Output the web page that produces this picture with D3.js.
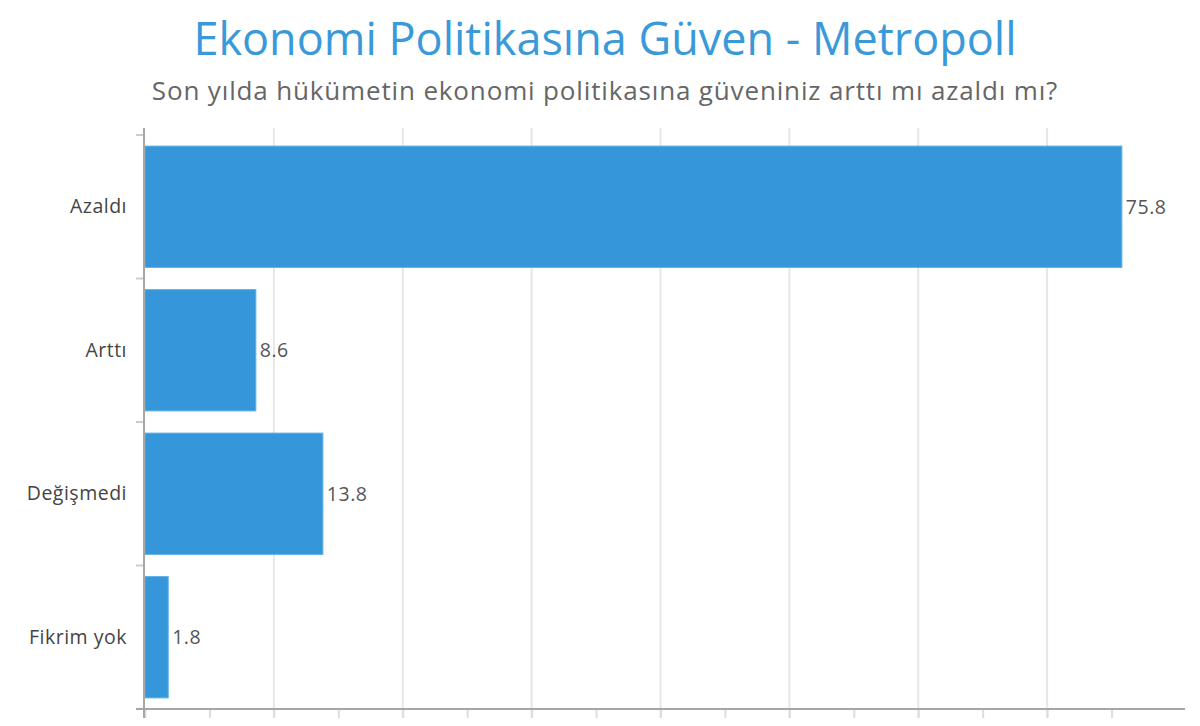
<!DOCTYPE html>
<html>
<head>
<meta charset="utf-8">
<script src="https://cdn.jsdelivr.net/npm/d3@7"></script>
<style>
  body { margin: 0; background: #fff; }
  svg { font-family: "Open Sans", sans-serif; }
</style>
</head>
<body>
<svg width="1200" height="726"></svg>
<script>
var categories = ["Azaldı", "Arttı", "Değişmedi", "Fikrim yok"];
var values = [75.8, 8.6, 13.8, 1.8];
var gridValues = [10, 20, 30, 40, 50, 60, 70];
var tickValues = [0, 5, 10, 15, 20, 25, 30, 35, 40, 45, 50, 55, 60, 65, 70, 75];

const plotLeft = 145, plotRight = 1185, plotTop = 135, plotBottom = 709;
const barColor = "#3597da";

var svg = d3.select("svg");

svg.append("text")
  .attr("x", 605).attr("y", 55)
  .attr("text-anchor", "middle")
  .attr("font-size", 45)
  .attr("fill", "#3a9ad9")
  .text("Ekonomi Politikasına Güven - Metropoll");

svg.append("text")
  .attr("x", 605).attr("y", 100)
  .attr("text-anchor", "middle")
  .attr("font-size", 26)
  .attr("letter-spacing", 0.85)
  .attr("fill", "#666")
  .text("Son yılda hükümetin ekonomi politikasına güveniniz arttı mı azaldı mı?");

var x = d3.scaleLinear().domain([0, 80.7]).range([plotLeft, plotRight]);
var y = d3.scaleBand().domain(categories).range([plotTop, plotBottom])
  .paddingInner(0.155).paddingOuter(0.0775);

// grid
svg.append("g").selectAll("line")
  .data(gridValues)
  .enter().append("line")
  .attr("x1", d => x(d)).attr("x2", d => x(d))
  .attr("y1", plotTop - 7).attr("y2", plotBottom + 9)
  .attr("stroke", "#e6e6e6").attr("stroke-width", 2);

// bottom axis ticks
var xAxis = svg.append("g")
  .attr("transform", "translate(0," + plotBottom + ")")
  .call(d3.axisBottom(x).tickValues(tickValues).tickSize(9).tickFormat(""));
xAxis.select(".domain").remove();
xAxis.selectAll("line").attr("stroke", "#ddd").attr("stroke-width", 2);

// bars
svg.append("g").selectAll("rect")
  .data(values)
  .enter().append("rect")
  .attr("x", x(0))
  .attr("y", (d, i) => y(categories[i]))
  .attr("width", d => x(d) - x(0))
  .attr("height", y.bandwidth())
  .attr("fill", barColor)
  .attr("stroke", "#5aaee6")
  .attr("stroke-width", 1);

// value labels
svg.append("g").selectAll("text")
  .data(values)
  .enter().append("text")
  .attr("x", d => x(d) + 4)
  .attr("y", (d, i) => y(categories[i]) + y.bandwidth() / 2)
  .attr("dy", "0.36em")
  .attr("font-size", 19.5)
  .attr("letter-spacing", 0.5)
  .attr("fill", "#555")
  .text(d => d);

// y axis labels
var yAxis = svg.append("g")
  .attr("transform", "translate(" + plotLeft + ",0)")
  .call(d3.axisLeft(y).tickSize(0).tickPadding(18));
yAxis.select(".domain").remove();
yAxis.selectAll("text")
  .attr("font-size", 19.5)
  .attr("letter-spacing", 0.5)
  .attr("font-family", "Open Sans, sans-serif")
  .attr("fill", "#444");

// category boundary ticks
svg.append("g").selectAll("line")
  .data(d3.range(categories.length + 1))
  .enter().append("line")
  .attr("x1", plotLeft - 9).attr("x2", plotLeft)
  .attr("y1", i => plotTop + i * y.step()).attr("y2", i => plotTop + i * y.step())
  .attr("stroke", "#ccc").attr("stroke-width", 2);

// axis lines
svg.append("line")
  .attr("x1", plotLeft - 9).attr("x2", plotRight)
  .attr("y1", plotBottom).attr("y2", plotBottom)
  .attr("stroke", "#a6a6a6").attr("stroke-width", 2);
svg.append("line")
  .attr("x1", plotLeft - 1).attr("x2", plotLeft - 1)
  .attr("y1", plotTop - 7).attr("y2", plotBottom + 9)
  .attr("stroke", "#a6a6a6").attr("stroke-width", 2);
</script>
</body>
</html>
